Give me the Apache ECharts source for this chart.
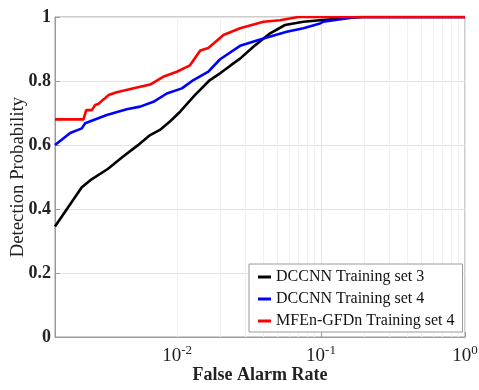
<!DOCTYPE html>
<html>
<head>
<meta charset="utf-8">
<script src="https://cdn.jsdelivr.net/npm/echarts@6/dist/echarts.min.js"></script>
<style>
  html, body { margin: 0; padding: 0; background: #fff; }
  #chart { width: 479px; height: 390px; }
</style>
</head>
<body>
<div id="chart"></div>
<script>
// ROC curves: false alarm rate (log scale) vs detection probability
const seriesNames = ['DCCNN Training set 3', 'DCCNN Training set 4', 'MFEn-GFDn Training set 4'];
const seriesColors = ['#000000', '#0000ff', '#ff0000'];

// [false alarm rate, detection probability]
const dccnnSet3 = [
  [0.00142, 0.345], [0.00218, 0.468], [0.0025, 0.49], [0.0033, 0.525],
  [0.0042, 0.563], [0.0053, 0.598], [0.0065, 0.631], [0.0076, 0.647],
  [0.0090, 0.675], [0.0105, 0.704], [0.0133, 0.756], [0.0169, 0.803],
  [0.0199, 0.824], [0.0222, 0.840], [0.0246, 0.855], [0.0274, 0.870],
  [0.0339, 0.907], [0.0443, 0.949], [0.0562, 0.975], [0.0754, 0.985],
  [0.0984, 0.990], [0.15, 0.997], [0.196, 1.0], [1.0, 1.0]
];
const dccnnSet4 = [
  [0.00142, 0.600], [0.00181, 0.6375], [0.00218, 0.652], [0.0023, 0.668],
  [0.00325, 0.694], [0.00447, 0.712], [0.00554, 0.720], [0.00685, 0.735],
  [0.00849, 0.761], [0.0108, 0.777], [0.0130, 0.803], [0.0165, 0.829],
  [0.0199, 0.868], [0.0274, 0.910], [0.0398, 0.933], [0.0578, 0.954],
  [0.0754, 0.965], [0.0984, 0.980], [0.1033, 0.985], [0.177, 1.0], [1.0, 1.0]
];
const mfenSet4 = [
  [0.00142, 0.680], [0.00224, 0.680], [0.00234, 0.709], [0.00256, 0.709],
  [0.0027, 0.725], [0.00284, 0.728], [0.0030, 0.738], [0.00316, 0.746],
  [0.00334, 0.756], [0.00381, 0.765], [0.00554, 0.782], [0.0065, 0.789],
  [0.0080, 0.813], [0.00996, 0.829], [0.0123, 0.849], [0.0145, 0.895],
  [0.0165, 0.903], [0.021, 0.944], [0.0274, 0.965], [0.0398, 0.985],
  [0.0519, 0.990], [0.0692, 1.0], [1.0, 1.0]
];

const xMin = 0.00142;
const xMax = 1;
// minor grid positions between decades
const minorGrid = [
  0.002, 0.003, 0.004, 0.005, 0.006, 0.007, 0.008, 0.009,
  0.02, 0.03, 0.04, 0.05, 0.06, 0.07, 0.08, 0.09,
  0.2, 0.3, 0.4, 0.5, 0.6, 0.7, 0.8, 0.9
];

const serif = '"Liberation Serif", "DejaVu Serif", serif';
const chart = echarts.init(document.getElementById('chart'), null, { renderer: 'canvas' });

const legendText = { fontFamily: serif, fontSize: 16, color: '#111', lineHeight: 16 };

const curves = [dccnnSet3, dccnnSet4, mfenSet4];
const series = curves.map((data, i) => ({
  name: seriesNames[i],
  type: 'line',
  data: data,
  showSymbol: false,
  symbol: 'none',
  z: 3 + i,
  lineStyle: { color: seriesColors[i], width: 2.6 },
  itemStyle: { color: seriesColors[i] }
}));

// minor vertical grid lines, drawn beneath the curves
series.unshift({
  name: 'minor-grid',
  type: 'line',
  data: [],
  z: 1,
  silent: true,
  markLine: {
    silent: true,
    z: 1,
    symbol: ['none', 'none'],
    label: { show: false },
    lineStyle: { color: '#f1f1f1', width: 1, type: 'solid' },
    emphasis: { disabled: true },
    animation: false,
    data: minorGrid.map(v => ({ xAxis: v }))
  }
});

chart.setOption({
  animation: false,
  backgroundColor: '#ffffff',
  grid: {
    left: 55, right: 14, top: 17, bottom: 53,
    containLabel: false,
    outerBoundsMode: 'none',
    show: true, borderColor: '#9a9a9a', borderWidth: 1, backgroundColor: 'transparent'
  },
  legend: {
    data: seriesNames.map(n => ({ name: n, textStyle: legendText })),
    orient: 'vertical',
    left: 249,
    top: 264,
    z: 20,
    padding: [5, 8, 3, 9],
    itemGap: 6,
    itemWidth: 13,
    itemHeight: 3,
    icon: 'rect',
    backgroundColor: '#ffffff',
    borderColor: '#9a9a9a',
    borderWidth: 1,
    borderRadius: 0,
    textStyle: legendText
  },
  xAxis: {
    type: 'log',
    logBase: 10,
    min: xMin,
    max: xMax,
    name: 'False Alarm Rate',
    nameLocation: 'middle',
    nameGap: 29,
    nameMoveOverlap: false,
    nameTextStyle: { fontFamily: serif, fontSize: 18, fontWeight: 'bold', color: '#222' },
    axisLine: { show: true, lineStyle: { color: '#9a9a9a', width: 1 } },
    axisTick: { show: true, inside: true, length: 5, lineStyle: { color: '#9a9a9a' } },
    splitLine: { show: true, lineStyle: { color: '#e4e4e4', width: 1 } },
    axisLabel: {
      margin: 7,
      formatter: function (v) {
        const e = Math.log10(v);
        if (Math.abs(e - Math.round(e)) > 1e-6) return '';
        return '{b|10}{s|' + Math.round(e) + '}';
      },
      rich: {
        b: { fontFamily: serif, fontSize: 19, color: '#222', lineHeight: 22, verticalAlign: 'bottom' },
        s: { fontFamily: serif, fontSize: 13, color: '#222', lineHeight: 22, verticalAlign: 'top', padding: [0, 0, 10, 0] }
      }
    }
  },
  yAxis: {
    type: 'value',
    min: 0,
    max: 1,
    interval: 0.2,
    name: 'Detection Probability',
    nameLocation: 'middle',
    nameGap: 27,
    nameMoveOverlap: false,
    nameTextStyle: { fontFamily: serif, fontSize: 18.7, color: '#222' },
    axisLine: { show: true, lineStyle: { color: '#9a9a9a', width: 1 } },
    axisTick: { show: true, inside: true, length: 5, lineStyle: { color: '#9a9a9a' } },
    splitLine: { show: true, lineStyle: { color: '#e4e4e4', width: 1 } },
    axisLabel: {
      margin: 4,
      fontFamily: serif,
      fontSize: 18,
      fontWeight: 'bold',
      color: '#222',
      formatter: function (v) {
        if (v === 0) return '0';
        if (v === 1) return '1';
        return v.toFixed(1);
      }
    }
  },
  series: series
});
</script>
</body>
</html>
